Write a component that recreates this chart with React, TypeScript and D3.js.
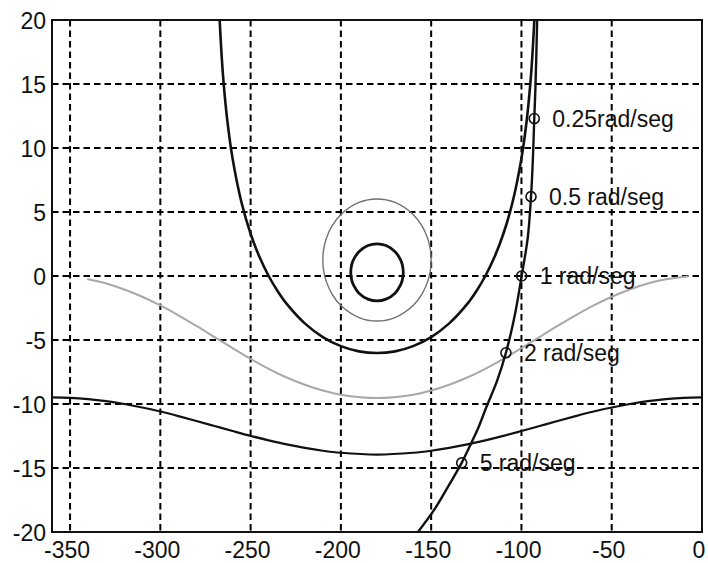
import React from "react";
import * as d3 from "d3";

// Nichols chart: open-loop response with closed-loop magnitude contours
const phaseTicks = [-350, -300, -250, -200, -150, -100, -50, 0];
const gainTicks = [-20, -15, -10, -5, 0, 5, 10, 15, 20];

// Open-loop frequency response (phase deg, gain dB)
const openLoop: [number, number][] = [
  [-91.3, 20], [-91.8, 17], [-92.3, 14.5], [-92.9, 12.3], [-93.7, 9],
  [-94.7, 6.2], [-96.5, 3], [-99.9, 0], [-103.6, -3], [-108.6, -6.0],
  [-113.5, -8.2], [-119.3, -10.2], [-124, -11.9], [-127.6, -13.0],
  [-133.1, -14.6], [-140, -16.3], [-148, -18.2], [-157.3, -20],
];

// Frequency markers along the open-loop curve
const markerLabels = ["0.25rad/seg", "0.5 rad/seg", "1 rad/seg", "2 rad/seg", "5 rad/seg"];
const markerPhase = [-92.9, -94.7, -99.9, -108.6, -133.1];
const markerGain = [12.3, 6.2, 0, -6.0, -14.6];

// Closed-loop magnitude contour M = 0 dB
const contour0dB: [number, number][] = [
  [-267.2, 20.2], [-267, 19.6], [-266, 17.11], [-265, 15.17], [-263, 12.26],
  [-260, 9.19], [-255, 5.72], [-250, 3.3], [-245, 1.46], [-240, 0],
  [-235, -1.19], [-230, -2.18], [-220, -3.7], [-210, -4.77], [-200, -5.48],
  [-190, -5.89], [-180, -6.02], [-170, -5.89], [-160, -5.48], [-150, -4.77],
  [-140, -3.7], [-130, -2.18], [-125, -1.19], [-120, 0], [-115, 1.46],
  [-110, 3.3], [-105, 5.72], [-100, 9.19], [-97, 12.26], [-95, 15.17],
  [-94, 17.11], [-93, 19.6], [-92.8, 20.2],
];

// Closed-loop magnitude contour M = -6 dB
const contourMinus6dB: [number, number][] = [
  [-340, -0.26], [-330, -0.59], [-320, -1.05], [-310, -1.62], [-300, -2.3],
  [-290, -3.07], [-280, -3.9], [-270, -4.77], [-260, -5.64], [-250, -6.48],
  [-240, -7.25], [-230, -7.93], [-220, -8.5], [-210, -8.95], [-200, -9.28],
  [-180, -9.54], [-160, -9.28], [-150, -8.95], [-140, -8.5], [-130, -7.93],
  [-120, -7.25], [-110, -6.48], [-100, -5.64], [-90, -4.77], [-80, -3.9],
  [-70, -3.07], [-60, -2.3], [-50, -1.62], [-40, -1.05], [-30, -0.59],
  [-20, -0.26], [-8, -0.04],
];

// Closed-loop magnitude contour M = -12 dB
const contourMinus12dB: [number, number][] = [
  [-360, -9.49], [-350, -9.52], [-340, -9.62], [-330, -9.78], [-320, -10.0],
  [-310, -10.27], [-300, -10.59], [-290, -10.95], [-280, -11.33], [-270, -11.72],
  [-260, -12.11], [-250, -12.49], [-240, -12.84], [-230, -13.16], [-220, -13.43],
  [-210, -13.65], [-200, -13.81], [-180, -13.95], [-160, -13.81], [-150, -13.65],
  [-140, -13.43], [-130, -13.16], [-120, -12.84], [-110, -12.49], [-100, -12.11],
  [-90, -11.72], [-80, -11.33], [-70, -10.95], [-60, -10.59], [-50, -10.27],
  [-40, -10.0], [-30, -9.78], [-20, -9.62], [-10, -9.52], [0, -9.49],
];

// Closed-loop magnitude contour M = 6 dB (closed loop around -180°, 0 dB)
const contour6dB: [number, number][] = [
  [-210, 1.25], [-209.5, 2.12], [-208, 2.96], [-205, 3.89], [-200, 4.81],
  [-190, 5.75], [-180, 6.02], [-170, 5.75], [-160, 4.81], [-155, 3.89],
  [-152, 2.96], [-150.5, 2.12], [-150, 1.25], [-150.5, 0.38], [-152, -0.46],
  [-155, -1.39], [-160, -2.31], [-170, -3.25], [-180, -3.52], [-190, -3.25],
  [-200, -2.31], [-205, -1.39], [-208, -0.46], [-209.5, 0.38],
];

// Closed-loop magnitude contour M = 12 dB
const contour12dB: [number, number][] = [
  [-194.55, 0.28], [-194, 0.89], [-193, 1.28], [-190, 1.9], [-185, 2.38],
  [-180, 2.51], [-175, 2.38], [-170, 1.9], [-167, 1.28], [-166, 0.89],
  [-165.45, 0.28], [-166, -0.32], [-167, -0.72], [-170, -1.34], [-175, -1.81],
  [-180, -1.95], [-185, -1.81], [-190, -1.34], [-193, -0.72], [-194, -0.32],
];

const W = 708;
const H = 563;
const left = 52;
const right = 702;
const top = 20;
const bottom = 532;

export default function App() {
  const x = d3.scaleLinear().domain([-360, 0]).range([left, right]);
  const y = d3.scaleLinear().domain([-20, 20]).range([bottom, top]);

  const line = d3
    .line<[number, number]>()
    .x((d) => x(d[0]))
    .y((d) => y(d[1]))
    .curve(d3.curveCatmullRom);
  const loop = d3
    .line<[number, number]>()
    .x((d) => x(d[0]))
    .y((d) => y(d[1]))
    .curve(d3.curveCatmullRomClosed);

  const font = "'Liberation Sans', Arial, Helvetica, sans-serif";

  return (
    <div style={{ position: "absolute", left: 0, top: 0 }}>
      <svg width={W} height={H} style={{ display: "block", background: "#fff" }}>
        <defs>
          <clipPath id="plot-area">
            <rect x={left} y={top} width={right - left} height={bottom - top} />
          </clipPath>
        </defs>

        {/* grid */}
        <g stroke="#000" strokeWidth={2} strokeDasharray="6.5,4" fill="none">
          {phaseTicks
            .filter((t) => t !== 0)
            .map((t) => (
              <line key={`gx${t}`} x1={x(t)} x2={x(t)} y1={top} y2={bottom} />
            ))}
          {gainTicks
            .filter((t) => t !== 20 && t !== -20)
            .map((t) => (
              <line key={`gy${t}`} x1={left} x2={right} y1={y(t)} y2={y(t)} />
            ))}
        </g>

        {/* contours and response */}
        <g clipPath="url(#plot-area)" fill="none" strokeLinejoin="round" strokeLinecap="round">
          <path d={line(contourMinus6dB) || ""} stroke="#a8a8a8" strokeWidth={2} />
          <path d={line(contourMinus12dB) || ""} stroke="#111" strokeWidth={2.2} />
          <path d={loop(contour6dB) || ""} stroke="#707070" strokeWidth={1.4} />
          <path d={loop(contour12dB) || ""} stroke="#111" strokeWidth={2.8} />
          <path d={line(contour0dB) || ""} stroke="#111" strokeWidth={2.6} />
          <path d={line(openLoop) || ""} stroke="#111" strokeWidth={2.4} />
        </g>

        {/* frequency markers */}
        <g>
          {markerPhase.map((p, i) => (
            <g key={markerLabels[i]}>
              <circle
                cx={x(p)}
                cy={y(markerGain[i])}
                r={5}
                fill="none"
                stroke="#111"
                strokeWidth={1.6}
              />
              <text
                x={x(p) + 18}
                y={y(markerGain[i]) + 8}
                fontFamily={font}
                fontSize={23}
                fill="#111"
              >
                {markerLabels[i]}
              </text>
            </g>
          ))}
        </g>

        {/* axes box */}
        <rect
          x={left}
          y={top}
          width={right - left}
          height={bottom - top}
          fill="none"
          stroke="#111"
          strokeWidth={2}
        />

        {/* tick labels */}
        <g fontFamily={font} fontSize={23} fill="#111">
          {gainTicks.map((t) => (
            <text key={`ly${t}`} x={46} y={y(t) + 8.5} textAnchor="end">
              {t}
            </text>
          ))}
          {phaseTicks.map((t) => (
            <text key={`lx${t}`} x={x(t) - 3} y={557.5} textAnchor="middle">
              {t}
            </text>
          ))}
        </g>
      </svg>
    </div>
  );
}
